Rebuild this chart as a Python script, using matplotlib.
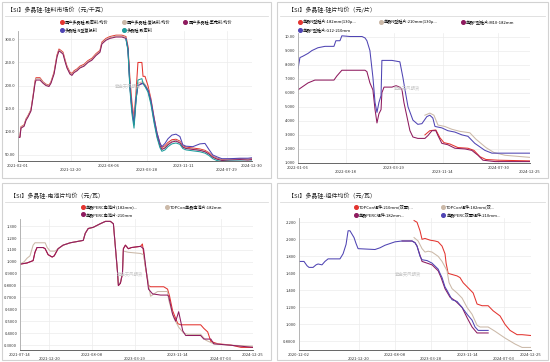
import numpy as np
import pandas as pd
import matplotlib
matplotlib.use('Agg')
import matplotlib.pyplot as plt
from matplotlib.lines import Line2D
from matplotlib.patches import Rectangle
from matplotlib.ticker import FuncFormatter

plt.rcParams['font.family'] = ['Noto Sans CJK SC', 'DejaVu Sans']

nan = np.nan
W, H = 550, 362

RED = '#e3342f'
TAN = '#cbb9a8'
MAROON = '#8e1a5e'
BLUE = '#4f44b3'
TEAL = '#1e9c9c'

# ---- panel 1: polysilicon market price (yuan/kg)
poly_dates = ['2021-02-01', '2021-02-13', '2021-02-19', '2021-03-10', '2021-03-22', '2021-04-03',
              '2021-04-21', '2021-05-04', '2021-05-16', '2021-05-22', '2021-06-15', '2021-07-04',
              '2021-07-22', '2021-08-09', '2021-08-21', '2021-09-09', '2021-09-27', '2021-10-09',
              '2021-10-21', '2021-11-03', '2021-11-15', '2021-11-27', '2021-12-15', '2021-12-27',
              '2022-01-09', '2022-01-27', '2022-02-14', '2022-03-11', '2022-04-04', '2022-04-28',
              '2022-05-23', '2022-06-16', '2022-06-28', '2022-07-23', '2022-08-16', '2022-09-22',
              '2022-10-28', '2022-11-22', '2022-12-04', '2022-12-16', '2022-12-28', '2023-01-10',
              '2023-01-22', '2023-02-03', '2023-02-27', '2023-03-06', '2023-03-18', '2023-04-05',
              '2023-04-23', '2023-05-12', '2023-05-30', '2023-06-17', '2023-06-29', '2023-07-18',
              '2023-08-05', '2023-08-29', '2023-09-23', '2023-10-17', '2023-11-04', '2023-11-23',
              '2024-01-04', '2024-02-16', '2024-03-18', '2024-04-11', '2024-05-05', '2024-05-30',
              '2024-06-29', '2024-08-17', '2024-10-17', '2024-12-05', '2024-12-30']
poly_red = [90, 90, 111, 115, 128, 135, 148, 178, 210, 217, 217, 208, 203, 201, 208, 229, 266, 279,
            276, 272, 256, 242, 229, 226, 232, 236, 242, 246, 254, 259, 269, 276, 294, 302, 306, 309,
            309, 306, 285, 215, 165, 130, 185, 250, 250, 220, 220, 200, 172, 132, 98, 75, 66, 70,
            77, 83, 84, 80, 70, 67, 65, 63, 60, 55, 47, 43, 40, 41, 42, 41, 42]
poly_tan = [89, 89, 110, 114, 127, 134, 147, 177, 208, 215, 215, 207, 202, 200, 207, 227, 264, 277,
            274, 270, 254, 240, 227, 224, 230, 234, 240, 244, 252, 257, 267, 274, 292, 300, 304, 307,
            307, 304, 282, 205, 155, 125, 178, 205, 208, 208, 203, 193, 168, 128, 95, 72, 63, 67,
            74, 80, 82, 78, 68, 65, 63, 61, 58, 53, 46, 42, 39, 40, 41, 40, 41]
poly_maroon = [88, 88, 108, 112, 125, 132, 145, 175, 205, 212, 212, 205, 200, 198, 205, 225, 262, 275,
               272, 268, 252, 238, 225, 222, 228, 232, 238, 242, 250, 255, 265, 272, 290, 298, 302, 305,
               305, 302, 280, 200, 150, 115, 170, 200, 205, 205, 200, 190, 165, 125, 92, 70, 62, 65,
               72, 78, 80, 76, 67, 64, 62, 60, 57, 52, 45, 41, 38, 39, 40, 39, 40]
poly_blue = [nan] * 37 + [301, 279, 198, 148, 118, 172, 200, 204, 204, 199, 190, 168, 130, 98, 76, 68,
                          75, 85, 93, 95, 90, 72, 69, 68, 74, 75, 62, 50, 46, 42, 42, 43, 43, 44]
poly_teal = [nan] * 37 + [300, 276, 192, 140, 108, 165, 212, 215, 205, 198, 186, 160, 120, 88, 66, 58,
                          61, 68, 74, 76, 73, 64, 61, 59, 57, 54, 49, 42, 38, 36, 37, 37, 36, 37]
poly_labels = ['国产多晶硅:致密料:均价', '国产多晶硅:复投料:均价', '国产多晶硅:菜花料:均价',
               '多晶硅:N型复投料', '多晶硅:致密料']
poly_ticks = ['2021-02-01', '2021-12-20', '2022-08-06', '2023-03-28', '2023-11-11', '2024-07-29', '2024-12-30']

# ---- panel 2: wafer price (yuan/piece)
wn182_dates = ['2023-08-22', '2023-09-14', '2023-10-12', '2023-10-31', '2023-11-19', '2023-12-17',
               '2024-01-23', '2024-03-10', '2024-04-07', '2024-05-05', '2024-06-02', '2024-07-28', '2024-12-25']
wn182_vals = [3.0, 3.3, 3.35, 2.8, 2.45, 2.35, 2.1, 2.05, 1.9, 1.45, 1.25, 1.2, 1.15]
wn210_dates = ['2023-08-22', '2023-09-14', '2023-10-03', '2023-10-22', '2023-11-23', '2023-12-26',
               '2024-02-02', '2024-03-19', '2024-04-16', '2024-06-02', '2024-07-09', '2024-08-30', '2024-12-25']
wn210_vals = [4.4, 4.55, 4.4, 3.7, 3.6, 3.4, 3.25, 3.15, 2.7, 2.1, 1.75, 1.55, 1.4]
wp182_dates = ['2022-01-06', '2022-01-15', '2022-02-03', '2022-02-22', '2022-03-26', '2022-06-23',
               '2022-07-07', '2022-07-30', '2022-11-15', '2022-11-24', '2022-12-08', '2022-12-22',
               '2023-01-01', '2023-01-10', '2023-01-19', '2023-01-29', '2023-02-02', '2023-02-12',
               '2023-03-21', '2023-04-09', '2023-04-27', '2023-05-07', '2023-05-16', '2023-05-30',
               '2023-06-13', '2023-06-27', '2023-07-20', '2023-08-22', '2023-09-05', '2023-09-24',
               '2023-10-12', '2023-10-22', '2023-11-09', '2023-12-07', '2024-01-09', '2024-02-25',
               '2024-03-28', '2024-04-26', '2024-05-19', '2024-07-14', '2024-12-25']
wp182_vals = [6.2, 6.3, 6.5, 6.7, 6.9, 6.9, 7.2, 7.6, 7.6, 7.5, 6.7, 6.2, 4.8, 3.85, 4.5, 4.8, 6.0, 6.4,
              6.4, 6.5, 6.4, 6.2, 5.3, 4.3, 3.3, 2.85, 2.75, 2.75, 2.95, 3.3, 3.3, 2.95, 2.4, 2.3, 2.05,
              2.0, 1.9, 1.55, 1.2, 1.1, 1.1]
wp210_dates = ['2022-01-06', '2022-01-15', '2022-01-29', '2022-02-22', '2022-03-12', '2022-04-09',
               '2022-05-12', '2022-06-23', '2022-07-02', '2022-07-21', '2022-07-30', '2022-09-06',
               '2022-11-01', '2022-11-15', '2022-11-24', '2022-12-08', '2022-12-22', '2023-01-01',
               '2023-01-10', '2023-01-19', '2023-01-29', '2023-02-02', '2023-03-21', '2023-04-27',
               '2023-05-11', '2023-05-21', '2023-06-04', '2023-06-27', '2023-07-20', '2023-08-08',
               '2023-08-31', '2023-09-14', '2023-09-28', '2023-10-08', '2023-11-09', '2023-12-07',
               '2024-01-09', '2024-02-11', '2024-03-10', '2024-04-11', '2024-05-28', '2024-06-30', '2024-12-25']
wp210_vals = [7.7, 8.5, 8.6, 8.8, 9.0, 9.2, 9.3, 9.3, 9.7, 9.7, 10.05, 10.0, 10.0, 9.9, 9.7, 9.0, 7.1,
              5.3, 4.6, 5.3, 5.8, 8.3, 8.3, 8.2, 7.1, 6.2, 5.0, 4.05, 3.75, 3.8, 4.3, 4.4, 4.2, 3.6,
              3.5, 3.3, 3.2, 3.0, 2.9, 2.4, 1.9, 1.7, 1.7]
wafer_labels = ['单晶N型硅片:182mm(130μ...', '单晶N型硅片:210mm(130μ...', '单晶P型硅片:M10-182mm',
                '单晶P型硅片:G12-210mm']
wafer_ticks = ['2022-01-06', '2022-08-18', '2023-03-29', '2023-11-14', '2024-07-30', '2024-12-25']

# ---- panel 3: cell price (yuan/W)
cperc182_dates = ['2021-07-14', '2021-08-21', '2021-09-23', '2021-10-03', '2021-10-14', '2021-11-16',
                  '2021-11-27', '2021-12-13', '2022-01-04', '2022-01-15', '2022-02-05', '2022-03-04',
                  '2022-04-12', '2022-06-21', '2022-07-02', '2022-07-18', '2022-08-14', '2022-09-21',
                  '2022-10-19', '2022-11-15', '2022-12-01', '2022-12-12', '2022-12-23', '2022-12-28',
                  '2023-01-08', '2023-01-19', '2023-01-24', '2023-02-04', '2023-02-20', '2023-03-09',
                  '2023-04-27', '2023-05-07', '2023-05-24', '2023-06-09', '2023-06-20', '2023-08-30',
                  '2023-09-20', '2023-10-01', '2023-10-17', '2023-11-14', '2023-11-30', '2024-03-17',
                  '2024-04-03', '2024-04-24', '2024-05-11', '2024-06-18', '2024-08-27', '2024-10-21', '2024-12-25']
cperc182_vals = [0.98, 0.99, 1.01, 1.08, 1.12, 1.12, 1.11, 1.06, 1.04, 1.05, 1.11, 1.14, 1.16, 1.18,
                 1.24, 1.28, 1.29, 1.32, 1.34, 1.34, 1.32, 1.12, 0.92, 0.80, 0.82, 0.90, 1.11, 1.14,
                 1.11, 1.12, 1.13, 1.15, 0.95, 0.80, 0.79, 0.79, 0.77, 0.71, 0.59, 0.48, 0.47, 0.47,
                 0.44, 0.41, 0.33, 0.31, 0.30, 0.28, 0.28]
ctop182_dates = ['2021-07-14', '2021-08-05', '2021-08-21', '2021-09-06', '2021-09-23', '2021-10-03',
                 '2021-11-27', '2021-12-08', '2021-12-24', '2022-01-20', '2022-02-05', '2022-03-04',
                 '2022-04-12', '2022-06-21', '2022-07-02', '2022-07-18', '2022-08-14', '2022-09-21',
                 '2022-10-19', '2022-11-15', '2022-12-01', '2022-12-12', '2022-12-23', '2022-12-28',
                 '2023-01-08', '2023-01-19', '2023-01-24', '2023-02-20', '2023-04-27', '2023-05-13',
                 '2023-05-24', '2023-06-04', '2023-06-20', '2023-07-28', '2023-09-20', '2023-09-26',
                 '2023-10-23', '2023-11-19', '2023-12-16', '2024-01-07', '2024-03-17', '2024-04-14',
                 '2024-05-27', '2024-08-11', '2024-12-25']
ctop182_vals = [0.98, 1.00, 1.03, 1.05, 1.14, 1.16, 1.16, 1.12, 1.09, 1.09, 1.11, 1.14, 1.16, 1.18,
                1.24, 1.28, 1.29, 1.32, 1.34, 1.34, 1.32, 1.12, 0.92, 0.81, 0.83, 0.90, 1.09, 1.08,
                1.07, 1.06, 0.95, 0.86, 0.71, 0.75, 0.75, 0.68, 0.53, 0.45, 0.40, 0.39, 0.39, 0.34,
                0.31, 0.30, 0.29]
cperc210_dates = ['2021-07-14', '2021-08-21', '2021-09-23', '2021-10-03', '2021-10-14', '2021-11-16',
                  '2021-11-27', '2021-12-13', '2022-01-04', '2022-01-15', '2022-02-05', '2022-03-04',
                  '2022-04-12', '2022-06-21', '2022-07-02', '2022-07-18', '2022-08-14', '2022-09-21',
                  '2022-10-19', '2022-11-15', '2022-12-01', '2022-12-12', '2022-12-23', '2022-12-28',
                  '2023-01-08', '2023-01-19', '2023-01-24', '2023-02-04', '2023-02-20', '2023-03-09',
                  '2023-04-27', '2023-05-13', '2023-05-24', '2023-06-09', '2023-07-01', '2023-08-13',
                  '2023-09-20', '2023-09-26', '2023-10-17', '2023-11-03', '2023-11-19', '2023-11-30',
                  '2023-12-11', '2023-12-27', '2024-03-17', '2024-04-03', '2024-05-11', '2024-05-27',
                  '2024-08-11', '2024-10-21', '2024-12-25']
cperc210_vals = [0.98, 0.99, 1.01, 1.08, 1.12, 1.12, 1.11, 1.06, 1.04, 1.05, 1.11, 1.14, 1.16, 1.18,
                 1.24, 1.28, 1.29, 1.32, 1.34, 1.34, 1.32, 1.12, 0.92, 0.80, 0.82, 0.90, 1.11, 1.14,
                 1.11, 1.12, 1.13, 1.11, 0.97, 0.77, 0.73, 0.72, 0.72, 0.71, 0.56, 0.50, 0.58, 0.50,
                 0.42, 0.38, 0.38, 0.35, 0.35, 0.31, 0.30, 0.29, 0.28]
cell_labels = ['单晶PERC电池片(182mm)...', 'TOPCon单晶电池片:182mm', '单晶PERC电池片-210mm']
cell_ticks = ['2021-07-14', '2021-12-20', '2022-08-08', '2023-03-29', '2023-11-14', '2024-07-03', '2024-12-25']

# ---- panel 4: module price (yuan/W)
mtop210_dates = ['2022-12-08', '2022-12-27', '2023-01-15', '2023-01-28', '2023-02-16', '2023-03-20',
                 '2023-04-21', '2023-05-11', '2023-06-05', '2023-06-24', '2023-07-01', '2023-07-14',
                 '2023-09-09', '2023-09-28', '2023-10-18', '2023-11-19', '2023-12-21', '2024-01-15',
                 '2024-02-16', '2024-03-26', '2024-04-27', '2024-06-10', '2024-07-12', '2024-08-13',
                 '2024-09-27', '2024-10-29', '2024-12-25']
mtop210_vals = [2.22, 2.20, 2.10, 2.00, 2.01, 1.99, 1.98, 1.97, 1.92, 1.83, 1.72, 1.60, 1.57, 1.55,
                1.49, 1.43, 1.37, 1.24, 1.22, 1.22, 1.16, 1.10, 1.00, 0.93, 0.88, 0.88, 0.87]
mtop182_dates = ['2022-12-08', '2023-01-03', '2023-01-28', '2023-02-16', '2023-03-08', '2023-04-02',
                 '2023-05-11', '2023-06-05', '2023-07-07', '2023-07-20', '2023-08-08', '2023-09-09',
                 '2023-10-11', '2023-11-12', '2023-12-14', '2024-01-15', '2024-02-03', '2024-03-26',
                 '2024-05-09', '2024-07-12', '2024-09-14', '2024-10-29', '2024-12-25']
mtop182_vals = [2.02, 1.98, 1.89, 1.85, 1.86, 1.85, 1.80, 1.74, 1.63, 1.49, 1.42, 1.37, 1.31, 1.20,
                1.12, 0.99, 0.97, 0.97, 0.92, 0.84, 0.77, 0.73, 0.73]
mperc182_dates = ['2022-09-22', '2022-11-25', '2022-12-14', '2022-12-27', '2023-01-28', '2023-03-01',
                  '2023-04-02', '2023-05-11', '2023-05-30', '2023-06-24', '2023-07-26', '2023-08-27',
                  '2023-10-11', '2023-11-12', '2023-12-14', '2024-01-15', '2024-03-26']
mperc182_vals = [1.98, 1.98, 1.96, 1.92, 1.74, 1.72, 1.70, 1.63, 1.55, 1.42, 1.32, 1.28, 1.20, 1.08,
                 0.97, 0.90, 0.90]
mperc210_dates = ['2020-12-02', '2021-01-03', '2021-01-22', '2021-02-04', '2021-03-02', '2021-03-21',
                  '2021-04-03', '2021-04-28', '2021-05-17', '2021-06-06', '2021-08-21', '2021-09-10',
                  '2021-09-29', '2021-10-12', '2021-10-24', '2021-11-19', '2021-12-02', '2021-12-15',
                  '2022-04-02', '2022-05-04', '2022-06-05', '2022-08-08', '2022-09-22', '2022-11-25',
                  '2022-12-14', '2022-12-27', '2023-01-15', '2023-01-28', '2023-03-01', '2023-04-02',
                  '2023-05-11', '2023-05-23', '2023-06-05', '2023-06-24', '2023-07-07', '2023-08-08',
                  '2023-09-09', '2023-10-11', '2023-11-12', '2023-12-14', '2024-01-02', '2024-01-22', '2024-03-26']
mperc210_vals = [1.74, 1.74, 1.69, 1.67, 1.67, 1.70, 1.71, 1.70, 1.74, 1.77, 1.77, 1.83, 1.94, 2.10,
                 2.10, 2.02, 1.95, 1.89, 1.88, 1.90, 1.93, 1.97, 1.98, 1.98, 1.96, 1.92, 1.80, 1.76,
                 1.75, 1.72, 1.65, 1.60, 1.55, 1.44, 1.40, 1.29, 1.27, 1.20, 1.12, 1.05, 0.97, 0.93, 0.93]
module_labels = ['TOPCon组件:210mm(双面)...', 'TOPCon组件:182mm(双...', '单晶PERC组件:182mm...',
                 '单晶PERC双面组件:210mm...']
module_ticks = ['2020-12-02', '2021-12-20', '2022-08-08', '2023-03-28', '2023-11-14', '2024-07-03', '2024-12-25']

fig = plt.figure(figsize=(5.5, 3.62), dpi=100)
fig.patch.set_facecolor('white')


def px_box(l, t, r, b):
    return [l / W, 1 - b / H, (r - l) / W, (b - t) / H]


def frame(l, t, r, b, title, tx, ty, sep_y):
    fig.add_artist(Rectangle((l / W, 1 - b / H), (r - l) / W, (b - t) / H, transform=fig.transFigure,
                             facecolor='white', edgecolor='#d2d2d2', lw=0.8, zorder=0))
    fig.text(tx / W, 1 - ty / H, title, fontsize=4.3, va='center', ha='left', color='#222222')
    fig.add_artist(Line2D([(l + 3) / W, (r - 3) / W], [1 - sep_y / H, 1 - sep_y / H],
                          transform=fig.transFigure, color='#dcdcdc', lw=0.6))


def setup(ax, ticks, yticks, ylim):
    t = pd.to_datetime(ticks)
    ax.set_xlim(t[0], t[-1])
    ax.set_xticks(t)
    ax.set_xticklabels([s if i % 2 == 0 else '\n' + s for i, s in enumerate(ticks)], linespacing=0.9)
    ax.set_yticks(yticks)
    ax.set_ylim(*ylim)
    ax.yaxis.set_major_formatter(FuncFormatter(lambda v, p: f'{v:#.4g}'))
    ax.tick_params(axis='both', labelsize=3, colors='#333333', length=0, pad=2)
    ax.tick_params(axis='x', pad=2.5)
    for s in ['top', 'right']:
        ax.spines[s].set_visible(False)
    ax.spines['left'].set_color('#aaaaaa')
    ax.spines['bottom'].set_color('#666666')
    ax.spines['left'].set_linewidth(0.6)
    ax.spines['bottom'].set_linewidth(0.7)
    ax.grid(True, color='#ececec', lw=0.5)
    ax.set_axisbelow(True)
    ax.text(0.47, 0.58, '紫金天风期货', transform=ax.transAxes, fontsize=3.2, color='#c8c8c8',
            ha='center', va='center')


def legend(ax, labels, colors, ncol, order, x, y, colsp):
    # matplotlib fills legend columns first, so reorder to get row-wise reading
    handles = [Line2D([], [], ls='none', marker='o', ms=2.6, color=colors[i], label=labels[i])
               for i in order]
    ax.legend(handles=handles, ncol=ncol, loc='upper left', bbox_to_anchor=(x / W, 1 - y / H),
              bbox_transform=fig.transFigure, frameon=False, fontsize=3, handlelength=0.6,
              handletextpad=0.4, columnspacing=colsp, labelspacing=0.75, borderpad=0,
              borderaxespad=0)


def plot(ax, dates, vals, color):
    ax.plot(pd.to_datetime(dates), vals, color=color, lw=0.75)


# panel 1
frame(2, 2, 271, 178, '【SI】多晶硅-硅料市场价（元/千克）', 7, 10, 15.5)
ax1 = fig.add_axes(px_box(18, 31, 252, 161))
for v, c in [(poly_red, RED), (poly_tan, TAN), (poly_maroon, MAROON), (poly_blue, BLUE), (poly_teal, TEAL)]:
    plot(ax1, poly_dates, v, c)
setup(ax1, poly_ticks, [50, 100, 150, 200, 250, 300], (37, 318))
legend(ax1, poly_labels, [RED, TAN, MAROON, BLUE, TEAL], 3, [0, 3, 1, 4, 2], 60.5, 19.3, 3.4)

# panel 2
frame(277, 2, 548, 178, '【SI】多晶硅-硅片均价（元/片）', 288, 10, 15.5)
ax2 = fig.add_axes(px_box(298, 33, 530, 163))
plot(ax2, wn182_dates, wn182_vals, RED)
plot(ax2, wn210_dates, wn210_vals, TAN)
plot(ax2, wp182_dates, wp182_vals, MAROON)
plot(ax2, wp210_dates, wp210_vals, BLUE)
setup(ax2, wafer_ticks, [1, 2, 3, 4, 5, 6, 7, 8, 9, 10], (1.0, 10.25))
legend(ax2, wafer_labels, [RED, TAN, MAROON, BLUE], 3, [0, 3, 1, 2], 298.5, 19.3, 5.6)

# panel 3
frame(2, 183, 271, 360, '【SI】多晶硅-电池片均价（元/瓦）', 10, 196, 201.7)
ax3 = fig.add_axes(px_box(20, 219, 253, 350))
plot(ax3, cperc182_dates, cperc182_vals, RED)
plot(ax3, ctop182_dates, ctop182_vals, TAN)
plot(ax3, cperc210_dates, cperc210_vals, MAROON)
setup(ax3, cell_ticks, [0.3, 0.4, 0.5, 0.6, 0.7, 0.8, 0.9, 1.0, 1.1, 1.2, 1.3], (0.258, 1.36))
legend(ax3, cell_labels, [RED, TAN, MAROON], 2, [0, 2, 1], 81.5, 204.3, 6.7)

# panel 4
frame(277, 183, 548, 360, '【SI】多晶硅-组件均价（元/瓦）', 288, 196, 201.7)
ax4 = fig.add_axes(px_box(299, 218, 531, 350))
plot(ax4, mtop210_dates, mtop210_vals, RED)
plot(ax4, mtop182_dates, mtop182_vals, TAN)
plot(ax4, mperc182_dates, mperc182_vals, MAROON)
plot(ax4, mperc210_dates, mperc210_vals, BLUE)
setup(ax4, module_ticks, [0.8, 1.0, 1.2, 1.4, 1.6, 1.8, 2.0, 2.2], (0.70, 2.25))
legend(ax4, module_labels, [RED, TAN, MAROON, BLUE], 2, [0, 2, 1, 3], 354.5, 204.5, 6.9)

fig.savefig('out.png', dpi=100)
